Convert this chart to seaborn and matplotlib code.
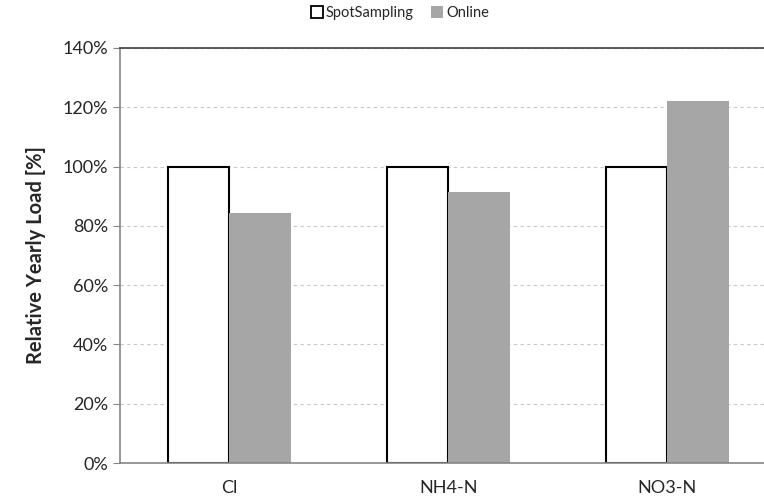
import pandas as pd
import matplotlib
matplotlib.use("Agg")
import matplotlib.pyplot as plt
from matplotlib.patches import Patch
from matplotlib.ticker import FixedLocator, PercentFormatter
import seaborn as sns

categories = ["Cl", "NH4-N", "NO3-N"]
spot_sampling = [100, 100, 100]
online = [84.3, 91.4, 122.0]
series = ["SpotSampling", "Online"]

df = pd.DataFrame({
    "Parameter": categories * 2,
    "Method": [series[0]] * 3 + [series[1]] * 3,
    "Load": spot_sampling + online,
})

sns.set_style("white")
plt.rcParams["font.family"] = ["Lato", "DejaVu Sans"]

fig = plt.figure(figsize=(7.64, 4.97), dpi=100)
# axes run past the right edge, like the cropped original
ax = fig.add_axes([120 / 764, 34 / 497, 657 / 764, 415 / 497])

sns.barplot(data=df, x="Parameter", y="Load", hue="Method", order=categories,
            hue_order=series, palette={"SpotSampling": "white", "Online": "#a6a6a6"},
            width=0.566, saturation=1, legend=False, ax=ax)

for bar in ax.containers[0]:
    bar.set_edgecolor("black")
    bar.set_linewidth(1.5)
for bar in ax.containers[1]:
    bar.set_edgecolor("none")

ax.set_xlim(-0.5, 2.5)
ax.set_ylim(0, 140)
ax.set_yticks(range(0, 141, 20))
ax.yaxis.set_major_formatter(PercentFormatter(decimals=0))
ax.yaxis.grid(True, linestyle=(0, (3, 3)), color="#c8c8c8", linewidth=0.8)
ax.set_axisbelow(True)

ax.xaxis.set_minor_locator(FixedLocator([-0.5, 0.5, 1.5, 2.5]))
ax.tick_params(axis="x", which="major", length=0, pad=12, labelsize=13)
ax.tick_params(axis="x", which="minor", length=5, color="#868686", direction="out")
ax.tick_params(axis="y", length=5, color="#868686", labelsize=13, direction="out", left=True)

for side in ["left", "bottom"]:
    ax.spines[side].set_color("#868686")
    ax.spines[side].set_linewidth(1.2)
ax.spines["top"].set_color("#404040")
ax.spines["top"].set_linewidth(1.2)
ax.spines["right"].set_visible(False)

ax.set_xlabel("")
ax.set_ylabel("Relative Yearly Load [%]", fontsize=14.5, fontweight="bold", labelpad=12)

handles = [Patch(facecolor="white", edgecolor="black", linewidth=1.3, label=series[0]),
           Patch(facecolor="#a6a6a6", edgecolor="none", label=series[1])]
fig.legend(handles=handles, loc="center", bbox_to_anchor=(400 / 764, 1 - 13 / 497),
           ncol=2, frameon=False, fontsize=10.5, handlelength=0.8, handleheight=0.8,
           handletextpad=0.2, columnspacing=1.2)

fig.savefig("out.png", dpi=100)
